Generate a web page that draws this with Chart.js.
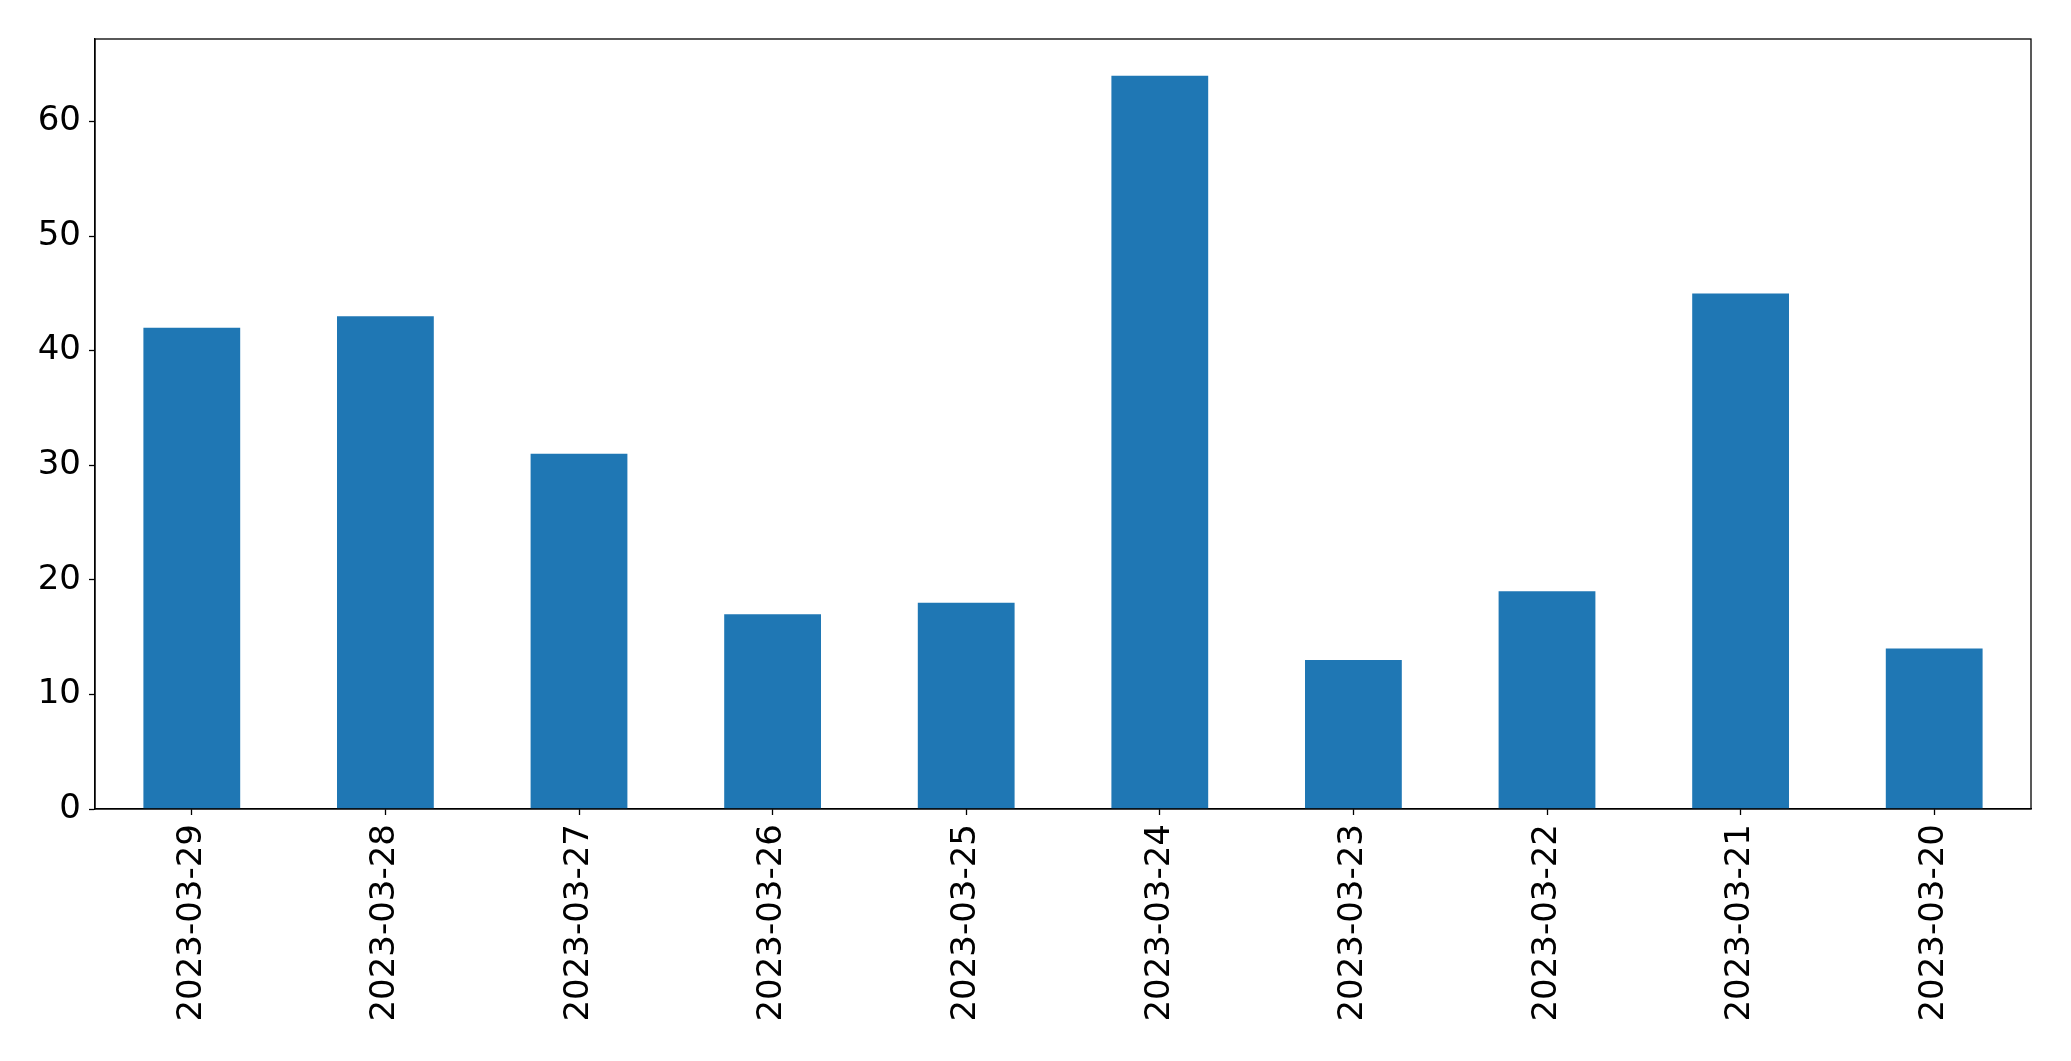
<!doctype html>
<html>
<head>
	<meta charset=utf-8>
	<title>Bar Chart</title>
	<script src="https://cdn.jsdelivr.net/npm/chart.js@4/dist/chart.umd.min.js"></script>
	<style>
		body { margin: 0; background: #fff; }
	</style>
</head>
<body>
	<canvas id="chart-area" width="2071" height="1061"></canvas>
	<script>
		var dates = ['2023-03-29', '2023-03-28', '2023-03-27', '2023-03-26', '2023-03-25',
			'2023-03-24', '2023-03-23', '2023-03-22', '2023-03-21', '2023-03-20'];
		var counts = [42, 43, 31, 17, 18, 64, 13, 19, 45, 14];
		var yTicks = [0, 10, 20, 30, 40, 50, 60];

		// box around the plot, like matplotlib spines
		var frame = {
			id: 'frame',
			afterDraw: function(chart) {
				var a = chart.chartArea, ctx = chart.ctx;
				ctx.save();
				ctx.strokeStyle = '#000';
				ctx.lineWidth = 1.3;
				ctx.strokeRect(a.left, a.top, a.right - a.left, a.bottom - a.top);
				ctx.restore();
			}
		};

		Chart.defaults.font.family = 'DejaVu Sans';
		Chart.defaults.font.size = 34;
		Chart.defaults.color = '#000';

		var config = {
			type: 'bar',
			data: {
				labels: dates,
				datasets: [{
					data: counts,
					backgroundColor: '#1f77b4',
					barPercentage: 0.5,
					categoryPercentage: 1.0
				}]
			},
			options: {
				responsive: false,
				animation: false,
				layout: { padding: { top: 39, right: 40, left: 0, bottom: 0 } },
				plugins: { legend: { display: false }, tooltip: { enabled: false } },
				scales: {
					x: {
						offset: true,
						grid: { display: true, drawOnChartArea: false, tickLength: 6, tickColor: '#000', tickWidth: 1.3, offset: false },
						border: { color: '#000', width: 1.3 },
						ticks: { minRotation: 90, maxRotation: 90, padding: 9, autoSkip: false },
						afterFit: function(s) { s.height = 252; }
					},
					y: {
						min: 0,
						max: 67.2,
						grid: { display: true, drawOnChartArea: false, tickLength: 6, tickColor: '#000', tickWidth: 1.3 },
						border: { color: '#000', width: 1.3 },
						afterBuildTicks: function(s) {
							s.ticks = yTicks.map(function(v) { return { value: v }; });
						},
						ticks: { padding: 8, includeBounds: false },
						afterFit: function(s) { s.width = 95; }
					}
				}
			},
			plugins: [frame]
		};

		var ctx = document.getElementById('chart-area').getContext('2d');
		window.myBar = new Chart(ctx, config);
	</script>
</body>
</html>
